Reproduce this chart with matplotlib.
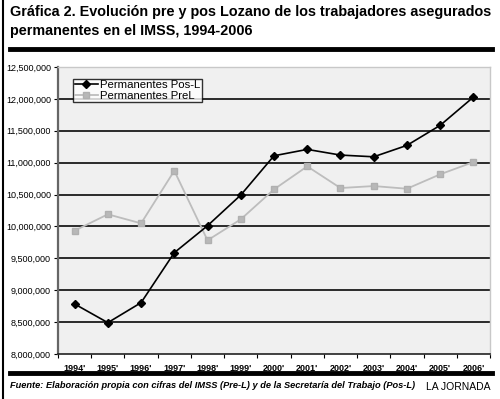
import matplotlib.pyplot as plt
from matplotlib.lines import Line2D
from matplotlib.ticker import FuncFormatter, FixedLocator

# Data
years = ["1994'", "1995'", "1996'", "1997'", "1998'", "1999'", "2000'",
         "2001'", "2002'", "2003'", "2004'", "2005'", "2006'"]
pos_l = [8783000, 8490000, 8804000, 9588000, 10011000, 10492000, 11108000,
         11208000, 11119000, 11092000, 11271000, 11585000, 12028000]
pre_l = [9933000, 10190000, 10048000, 10873000, 9782000, 10111000, 10581000,
         10942000, 10602000, 10633000, 10591000, 10817000, 11009000]
y_ticks = [8000000, 8500000, 9000000, 9500000, 10000000, 10500000,
           11000000, 11500000, 12000000, 12500000]

plt.rcParams['font.family'] = ['Liberation Sans', 'DejaVu Sans']

fig = plt.figure(figsize=(5, 3.99), dpi=100)
ax = fig.add_axes([0.116, 0.113, 0.864, 0.719])
ax.set_facecolor('#f0f0f0')

x = list(range(len(years)))
for v in y_ticks[1:-1]:
    ax.axhline(v, color='#2a2a2a', lw=1.4, zorder=1)

ax.plot(x, pre_l, color='#bdbdbd', lw=1.3, marker='s', ms=5,
        mec='#b0b0b0', mfc='#b8b8b8', label='Permanentes PreL', zorder=3)
ax.plot(x, pos_l, color='black', lw=1.2, marker='D', ms=4.5,
        label='Permanentes Pos-L', zorder=4)

ax.set_xlim(-0.5, len(years) - 0.5)
ax.set_ylim(8000000, 12500000)
ax.set_yticks(y_ticks)
ax.yaxis.set_major_formatter(FuncFormatter(lambda v, p: f"{int(v):,}"))
ax.tick_params(axis='y', labelsize=6.5, length=3, width=0.8, pad=2)

ax.set_xticks(x)
ax.set_xticklabels(years, fontweight='bold', fontsize=6.5)
ax.tick_params(axis='x', length=0, pad=7)
ax.xaxis.set_minor_locator(FixedLocator([i - 0.5 for i in range(len(years) + 1)]))
ax.tick_params(axis='x', which='minor', length=3, width=0.8, direction='out')

for s in ['top', 'right']:
    ax.spines[s].set_color('#c8c8c8')
    ax.spines[s].set_linewidth(1)
ax.spines['left'].set_color('#666666')
ax.spines['left'].set_linewidth(1.6)
ax.spines['bottom'].set_color('#222222')
ax.spines['bottom'].set_linewidth(1.2)

handles = [Line2D([], [], color='black', lw=1.2, marker='D', ms=4),
           Line2D([], [], color='#bdbdbd', lw=1.3, marker='s', ms=4.5,
                  mec='#b0b0b0', mfc='#b8b8b8')]
leg = ax.legend(handles, ['Permanentes Pos-L', 'Permanentes PreL'],
                loc='upper left', bbox_to_anchor=(0.035, 0.96), fontsize=8.2,
                frameon=True, fancybox=False, borderpad=0.15, labelspacing=0.05,
                handlelength=2.0, handletextpad=0.25, borderaxespad=0)
leg.get_frame().set_edgecolor('black')
leg.get_frame().set_linewidth(1)
leg.get_frame().set_facecolor('white')

# Title and decorations
fig.text(0.02, 0.988, "Gráfica 2. Evolución pre y pos Lozano de los trabajadores asegurados\n"
         "permanentes en el IMSS, 1994-2006", fontweight='bold',
         fontsize=10.4, va='top', ha='left', linespacing=1.45)
fig.add_artist(Line2D([0.02, 0.984], [0.877, 0.877], color='black', lw=3.5))
fig.add_artist(Line2D([0.005, 0.005], [0.0, 1.0], color='black', lw=1.5))
fig.add_artist(Line2D([0.02, 0.984], [0.065, 0.065], color='black', lw=3.5))

fig.text(0.02, 0.035, "Fuente: Elaboración propia con cifras del IMSS (Pre-L) y de la Secretaría del Trabajo (Pos-L)",
         fontweight='bold', fontstyle='italic', fontsize=6.7,
         va='center', ha='left')
fig.text(0.982, 0.03, "LA JORNADA", fontsize=7.5, va='center', ha='right')

fig.savefig('out.png', dpi=100, facecolor='white')
